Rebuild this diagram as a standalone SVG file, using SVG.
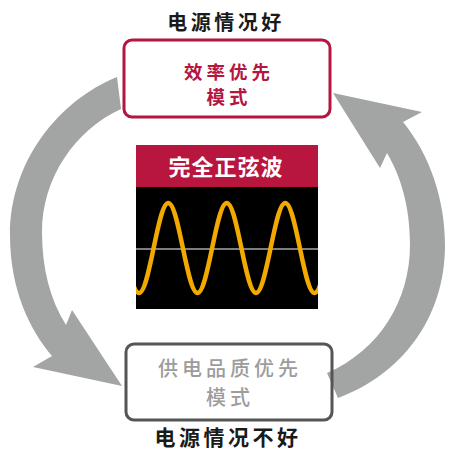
<svg xmlns="http://www.w3.org/2000/svg" width="475" height="457" viewBox="0 0 475 457">
<defs>
<style>
.cjk{font-family:"Noto Sans CJK SC","Noto Sans CJK JP",sans-serif;text-anchor:middle}
.title{font-size:20px;font-weight:bold;fill:#1a1a1a;letter-spacing:3.5px}
.top{font-size:18.5px;fill:#b3163f;letter-spacing:4px;font-weight:bold}
.bot{font-size:20px;fill:#9c9c9c;letter-spacing:4px;font-weight:500}
.arrow{fill:#a3a4a4}
</style>
<clipPath id="scope"><rect x="136" y="187" width="182" height="122"/></clipPath>
</defs>
<rect width="475" height="457" fill="#ffffff"/>
<g id="connectors">
<path class="arrow" d="M117,77 C60,100 10,160 10,235 C10,290 30,330 52,356 L33,367 L122,386 L72,310 L66,325 C50,300 42,268 42,232 C42,178 75,130 121,109 Z"/>
<path class="arrow" d="M333,93 L422,112 L403,122 C430,155 445,200 445,245 C445,320 400,375 338,398 L327,373 C380,350 410,300 410,245 C410,205 400,175 387,153 L380,168 Z"/>
</g>
<g id="title-good"><text class="cjk title" x="226" y="30">电源情况好</text></g>
<g id="efficiency-mode">
<rect x="124" y="40" width="206" height="77" rx="8" fill="none" stroke="#b3163f" stroke-width="3"/>
<text class="cjk top" x="229" y="78.5">效率优先</text>
<text class="cjk top" x="229" y="104">模式</text>
</g>
<g id="sine-panel">
<rect x="136" y="145" width="182" height="42" fill="#b8163f"/>
<text class="cjk" x="226" y="175" style="font-size:22px;font-weight:bold;fill:#ffffff;letter-spacing:1px">完全正弦波</text>
<rect x="136" y="187" width="182" height="122" fill="#000000"/>
<line x1="136" y1="249" x2="318" y2="249" stroke="#a8a8a8" stroke-width="1.5"/>
<path clip-path="url(#scope)" fill="none" stroke="#f2a900" stroke-width="4.5" d="M124.375,248 C129.145,271.05 133.707,293 139,293 C144.293,293 148.855,271.05 153.625,248 C158.395,224.95 162.957,203 168.25,203 C173.543,203 178.105,224.95 182.875,248 C187.645,271.05 192.207,293 197.5,293 C202.793,293 207.355,271.05 212.125,248 C216.895,224.95 221.457,203 226.75,203 C232.043,203 236.605,224.95 241.375,248 C246.145,271.05 250.707,293 256,293 C261.293,293 265.855,271.05 270.625,248 C275.395,224.95 279.957,203 285.25,203 C290.543,203 295.105,224.95 299.875,248 C304.645,271.05 309.207,293 314.5,293 C319.793,293 324.355,271.05 329.125,248"/>
</g>
<g id="quality-mode">
<rect x="126" y="344" width="206" height="76" rx="8" fill="none" stroke="#555555" stroke-width="3"/>
<text class="cjk bot" x="230" y="376">供电品质优先</text>
<text class="cjk bot" x="230" y="405">模式</text>
</g>
<g id="title-bad"><text class="cjk title" x="228" y="445" style="font-size:21px">电源情况不好</text></g>
</svg>
